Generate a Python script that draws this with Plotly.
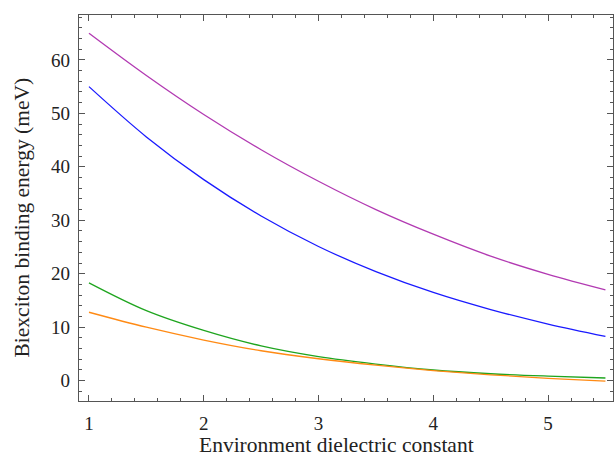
import plotly.graph_objects as go

eps = [1.0, 1.5, 2.0, 2.5, 3.0, 3.5, 4.0, 4.5, 5.0, 5.5]
purple_vals = [65.0, 57.1, 49.8, 43.2, 37.3, 32.0, 27.4, 23.3, 19.9, 17.0]
blue_vals = [55.0, 45.6, 37.6, 30.8, 25.1, 20.4, 16.5, 13.3, 10.6, 8.3]
green_vals = [18.3, 13.1, 9.4, 6.5, 4.5, 3.1, 2.0, 1.3, 0.85, 0.5]
orange_vals = [12.8, 10.0, 7.6, 5.6, 4.1, 2.9, 1.9, 1.1, 0.45, -0.1]

x_title = "Environment dielectric constant"
y_title = "Biexciton binding energy (meV)"

series = [
    (purple_vals, "#b23ab2"),
    (blue_vals, "#1a1aff"),
    (green_vals, "#1fa51f"),
    (orange_vals, "#ff8a14"),
]

fig = go.Figure()
for vals, col in series:
    fig.add_trace(go.Scatter(x=eps, y=vals, mode="lines",
                             line=dict(color=col, width=1.3, shape="spline", smoothing=1.0),
                             showlegend=False))

tick_font = dict(family="Liberation Serif, Times New Roman, serif", size=19, color="#222")
title_font = dict(family="Liberation Serif, Times New Roman, serif", size=21.5, color="#222")
axis_common = dict(
    showline=True, linecolor="#555", linewidth=1.2, mirror="ticks",
    ticks="inside", ticklen=6, tickwidth=1, tickcolor="#555",
    showgrid=False, zeroline=False, automargin=False,
    tickfont=tick_font,
)
fig.update_xaxes(range=[0.913, 5.566], tickvals=[1, 2, 3, 4, 5],
                 minor=dict(dtick=0.2, tick0=0, ticklen=3, tickcolor="#555", ticks="inside"),
                 ticklabelstandoff=5, **axis_common)
fig.update_yaxes(range=[-3.8, 68.4], tickvals=[0, 10, 20, 30, 40, 50, 60],
                 minor=dict(dtick=2, tick0=0, ticklen=3, tickcolor="#555", ticks="inside"),
                 ticklabelstandoff=4, **axis_common)

fig.add_annotation(text=x_title, xref="paper", yref="paper", x=0.4813, y=-0.113,
                   xanchor="center", yanchor="middle", showarrow=False, font=title_font)
fig.add_annotation(text=y_title, xref="paper", yref="paper", x=-0.1067, y=0.4754,
                   xanchor="center", yanchor="middle", showarrow=False, textangle=-90,
                   font=title_font)

fig.update_layout(width=616, height=459, margin=dict(l=79, r=3, t=15, b=58),
                  plot_bgcolor="white", paper_bgcolor="white")
fig.write_html("out.html", config={"displayModeBar": False},
               post_script="document.body.style.margin='0';document.body.style.overflow='hidden';")
